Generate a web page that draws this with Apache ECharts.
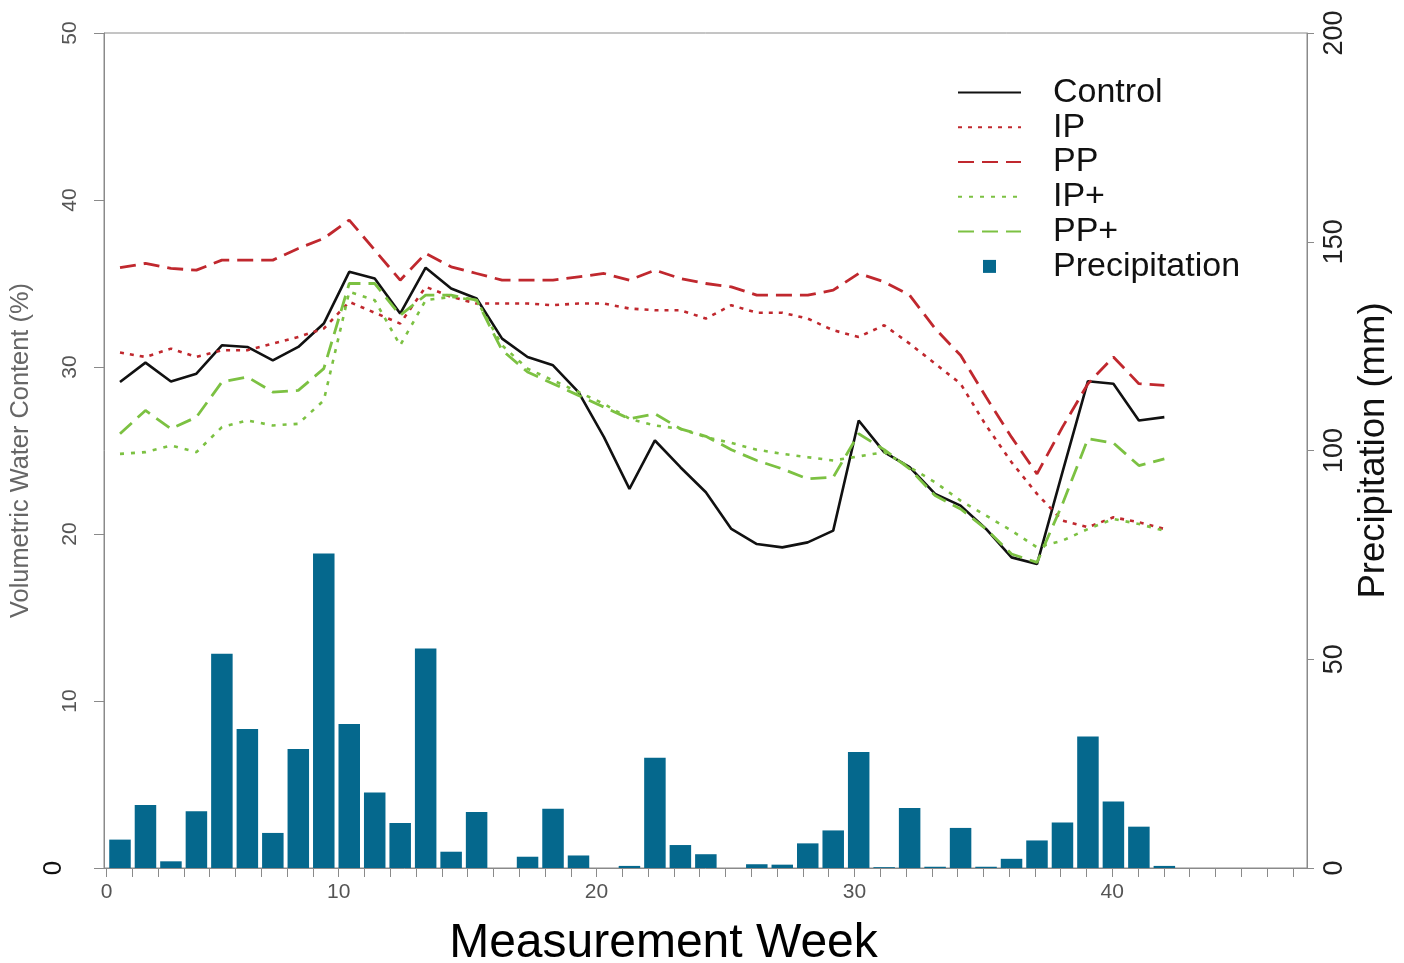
<!DOCTYPE html>
<html>
<head>
<meta charset="utf-8">
<script src="https://cdn.jsdelivr.net/npm/echarts@6/dist/echarts.min.js"></script>
<style>
  html, body { margin: 0; padding: 0; background: #ffffff; }
  #chart { width: 1404px; height: 963px; }
</style>
</head>
<body>
<div id="chart"></div>
<script>
// ---- data ----
const weeks = [1,2,3,4,5,6,7,8,9,10,11,12,13,14,15,16,17,18,19,20,21,22,23,24,25,26,27,28,29,30,31,32,33,34,35,36,37,38,39,40,41,42];
const precipitation = [6.8,15.1,1.6,13.6,51.3,33.3,8.4,28.5,75.3,34.5,18.1,10.8,52.6,3.9,13.4,0,2.7,14.2,3.0,0,0.5,26.4,5.5,3.3,0,0.9,0.8,5.9,9.0,27.8,0.2,14.4,0.3,9.6,0.3,2.2,6.6,10.9,31.5,15.9,9.9,0.5];
const control = [29.1,30.26,29.13,29.6,31.3,31.2,30.4,31.2,32.6,35.7,35.3,33.2,35.95,34.7,34.1,31.7,30.6,30.1,28.5,25.8,22.7,25.6,24.0,22.5,20.3,19.4,19.2,19.5,20.2,26.8,24.9,24.0,22.4,21.7,20.3,18.6,18.2,23.7,29.15,29.0,26.8,27.0];
const ip = [30.87,30.6,31.1,30.6,31.0,31.0,31.4,31.8,32.3,33.9,33.25,32.6,34.8,34.2,33.8,33.8,33.8,33.7,33.8,33.8,33.5,33.4,33.4,32.9,33.7,33.25,33.25,32.9,32.2,31.8,32.5,31.4,30.2,29.0,26.5,24.3,22.4,20.8,20.4,21.0,20.7,20.3];
const pp = [35.95,36.2,35.9,35.8,36.4,36.4,36.4,37.1,37.7,38.8,37.0,35.2,36.8,36.0,35.6,35.2,35.2,35.2,35.4,35.6,35.2,35.8,35.3,35.0,34.8,34.3,34.3,34.3,34.6,35.6,35.1,34.3,32.3,30.7,28.2,25.8,23.6,26.4,29.0,30.6,29.0,28.9];
const ipPlus = [24.8,24.9,25.3,24.9,26.4,26.8,26.5,26.6,28.0,34.5,34.0,31.3,34.0,34.2,34.0,31.3,29.9,29.2,28.5,27.8,26.9,26.5,26.3,25.8,25.45,25.05,24.8,24.6,24.4,24.65,24.9,24.0,23.1,22.0,21.1,20.2,19.2,19.6,20.3,20.9,20.6,20.2];
const ppPlus = [26.0,27.4,26.3,27.0,29.1,29.4,28.5,28.6,29.9,35.0,35.0,33.1,34.3,34.3,34.0,31.0,29.7,29.0,28.3,27.6,26.9,27.2,26.3,25.85,25.05,24.4,23.9,23.3,23.4,26.0,25.05,23.9,22.3,21.5,20.3,18.8,18.3,21.8,25.7,25.45,24.1,24.5];
const xTickLabels = ['0','10','20','30','40'];
const xTickLabelAt = [0.5, 9.5, 19.5, 29.5, 39.5];
const yLeftTicks = [0,10,20,30,40,50];
const yRightTicks = [0,50,100,150,200];

// ---- chart ----
const font = "'Liberation Sans', Arial, sans-serif";
const red = '#c0282e';
const green = '#7cc142';
const tickPositions = [];
for (let t = 0; t <= 46; t++) tickPositions.push(t + 0.5);

const pairs = arr => weeks.map((w, i) => [w, arr[i]]);

const lineSeries = (name, arr, color, type, width) => ({
  name, type: 'line', data: pairs(arr), xAxisIndex: 1, yAxisIndex: 0,
  symbol: 'none', smooth: false, z: 5,
  lineStyle: { color, width, type },
  itemStyle: { color }
});

const chart = echarts.init(document.getElementById('chart'), null, { renderer: 'canvas' });
chart.setOption({
  backgroundColor: '#ffffff',
  animation: false,
  textStyle: { fontFamily: font },
  grid: { left: 104, right: 97, top: 33, bottom: 95, outerBoundsMode: 'none', containLabel: false,
    show: true, borderColor: '#8a8a8a', borderWidth: 1, backgroundColor: 'transparent' },
  legend: {
    orient: 'vertical', left: 952, top: 70,
    itemWidth: 63, itemHeight: 13, itemGap: 0,
    textStyle: { fontSize: 34, color: '#111', lineHeight: 34.8, padding: [0, 0, 0, 27], fontFamily: font },
    data: [
      { name: 'Control', itemStyle: { opacity: 0 } },
      { name: 'IP', itemStyle: { opacity: 0 } },
      { name: 'PP', itemStyle: { opacity: 0 } },
      { name: 'IP+', itemStyle: { opacity: 0 } },
      { name: 'PP+', itemStyle: { opacity: 0 } },
      { name: 'Precipitation', icon: 'path://M0,0h10v10h-10z' }
    ]
  },
  xAxis: [
    {
      type: 'value', min: 0.4, max: 47.05,
      name: 'Measurement Week', nameLocation: 'middle', nameGap: 52,
      nameTextStyle: { fontSize: 48, color: '#000', padding: [0, 84, 0, 0], fontFamily: font },
      axisLine: { show: true, lineStyle: { color: '#8a8a8a', width: 1 } },
      axisTick: { show: true, length: 9, customValues: tickPositions, lineStyle: { color: '#8a8a8a' } },
      axisLabel: {
        show: true, customValues: xTickLabelAt, margin: 14, fontSize: 21, color: '#555',
        formatter: v => { const i = xTickLabelAt.indexOf(v); return i >= 0 ? xTickLabels[i] : ''; }
      },
      splitLine: { show: false }
    },
    {
      type: 'value', min: 0.372, max: 47.6, show: false,
      splitLine: { show: false }
    }
  ],
  yAxis: [
    {
      type: 'value', position: 'left', min: 0, max: 50, interval: 10,
      name: 'Volumetric Water Content (%)', nameLocation: 'middle', nameGap: 63,
      nameTextStyle: { fontSize: 25.4, color: '#666', fontFamily: font },
      axisLine: { show: true, lineStyle: { color: '#8a8a8a', width: 1 } },
      axisTick: { show: true, length: 10, lineStyle: { color: '#8a8a8a' } },
      axisLabel: {
        rotate: 90, margin: 23, fontSize: 21, color: '#555',
        formatter: v => (v === yLeftTicks[0] ? '{z|0}' : String(v)),
        rich: { z: { fontSize: 26, color: '#111', padding: [0, 0, 14, 0] } }
      },
      splitLine: { show: false }
    },
    {
      type: 'value', position: 'right', min: 0, max: 200, interval: 50,
      name: 'Precipitation (mm)', nameLocation: 'middle', nameGap: 48, nameRotate: 90,
      nameTextStyle: { fontSize: 36.5, color: '#111', fontFamily: font },
      axisLine: { show: true, lineStyle: { color: '#8a8a8a', width: 1 } },
      axisTick: { show: true, length: 7, lineStyle: { color: '#8a8a8a' } },
      axisLabel: { rotate: 90, margin: 14, fontSize: 27, color: '#222',
        formatter: v => (yRightTicks.indexOf(v) >= 0 ? String(v) : '') },
      splitLine: { show: false }
    }
  ],
  series: [
    {
      name: 'Precipitation', type: 'bar', xAxisIndex: 1, yAxisIndex: 1, data: pairs(precipitation),
      barWidth: 21.5, z: 2, itemStyle: { color: '#05688d' }
    },
    lineSeries('Control', control, '#111111', 'solid', 2.6),
    lineSeries('IP', ip, red, [4, 6], 2.6),
    lineSeries('PP', pp, red, [16, 8], 2.8),
    lineSeries('IP+', ipPlus, green, [4, 7], 2.6),
    lineSeries('PP+', ppPlus, green, [16, 8], 2.8)
  ]
});
</script>
</body>
</html>
